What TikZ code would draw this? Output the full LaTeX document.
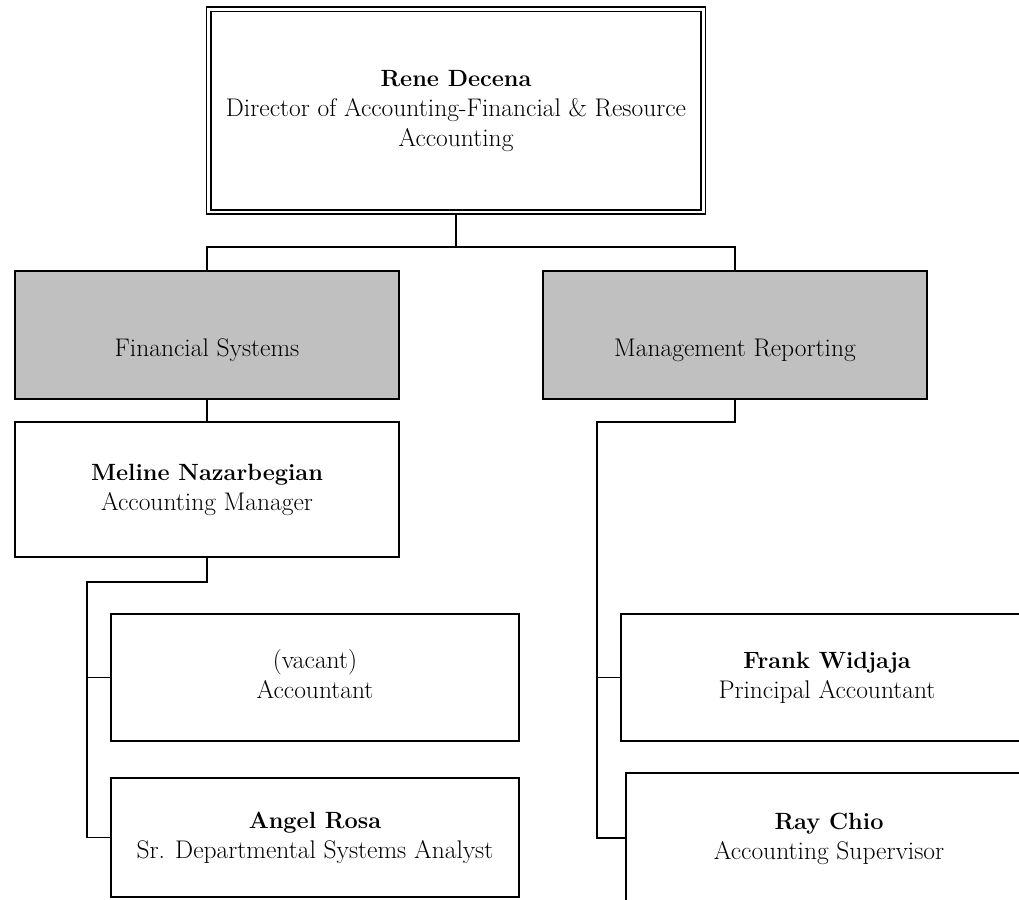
\documentclass[tikz,border=0pt]{standalone}
\usetikzlibrary{backgrounds}
\newcommand{\pname}[1]{{\fontsize{23.5}{30}\selectfont\bfseries #1}\strut}
\newcommand{\pline}[1]{#1\strut}
\begin{document}
\begin{tikzpicture}[x=1pt,y=-1pt,
  txt/.style={align=center,inner sep=0pt,font=\fontsize{25.5}{30}\selectfont},
  person/.style={txt,draw=black,line width=1.6pt,fill=white,rectangle},
  unit/.style={txt,draw=black,line width=1.6pt,fill=silver,rectangle},
  head/.style={txt,draw=black,line width=1.6pt,double=white,double distance=2.8pt,fill=white,rectangle},
  link/.style={draw=black,line width=1.6pt}]
\useasboundingbox (0,0) rectangle (1019,899);
\clip (0,0) rectangle (1019,899);
\definecolor{silver}{RGB}{192,192,192}
\node[head,minimum width=494.5pt,minimum height=202.5pt] (top) at (456,110.75)
  {\pname{Rene Decena}\\\pline{Director of Accounting-Financial \& Resource}\\\pline{Accounting}};
\node[unit,minimum width=384pt,minimum height=128pt] (fs) at (207,335) {\strut\\\pline{Financial Systems}};
\node[unit,minimum width=384pt,minimum height=128pt] (mr) at (735,335) {\strut\\\pline{Management Reporting}};
\node[person,minimum width=384pt,minimum height=135pt] (mn) at (207,489.5) {\pname{Meline Nazarbegian}\\\pline{Accounting Manager}};
\node[person,minimum width=408pt,minimum height=127pt] (vac) at (315,677.5) {\pline{(vacant)}\\\pline{Accountant}};
\node[person,minimum width=408pt,minimum height=119pt] (ang) at (315,837.5) {\pname{Angel Rosa}\\\pline{Sr. Departmental Systems Analyst}};
\node[person,minimum width=412pt,minimum height=127pt] (fw) at (827,677.5) {\pname{Frank Widjaja}\\\pline{Principal Accountant}};
\node[person,minimum width=406pt,minimum height=130pt] (rc) at (829,838) {\pname{Ray Chio}\\\pline{Accounting Supervisor}};
\coordinate (tbus) at (456,247);
\coordinate (lbus) at (87,582);
\coordinate (rbus) at (597,422);
\begin{scope}[on background layer]
\draw[link] (top.south) -- (tbus) -| (fs.north);
\draw[link] (tbus) -| (mr.north);
\draw[link] (fs.south) -- (mn.north);
\draw[link] (mn.south) |- (lbus) |- (vac.west);
\draw[link] (lbus) |- (ang.west);
\draw[link] (mr.south) |- (rbus) |- (fw.west);
\draw[link] (rbus) |- (rc.west);
\end{scope}
\end{tikzpicture}
\end{document}
